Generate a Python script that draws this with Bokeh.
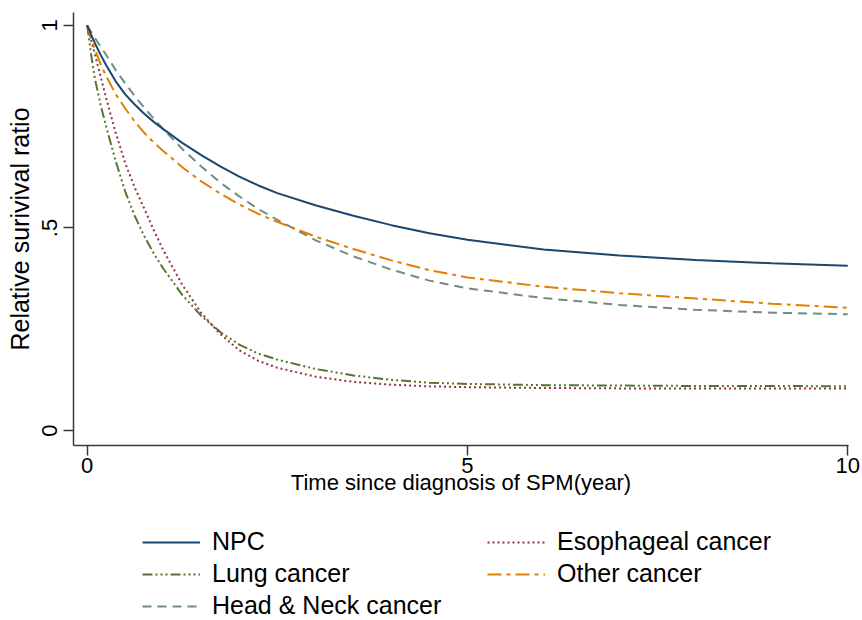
from bokeh.plotting import figure
from bokeh.models import Range1d, FixedTicker, Legend, LegendItem
from bokeh.layouts import column
from bokeh.embed import file_html
from bokeh.resources import INLINE

# ---- data ----
years = [0, 0.05, 0.1, 0.175, 0.25, 0.375, 0.5, 0.625, 0.75, 0.875, 1, 1.25, 1.5, 1.75, 2, 2.25,
         2.5, 3, 3.5, 4, 4.5, 5, 6, 7, 8, 9, 10]
npc = [1.0, 0.978, 0.957, 0.928, 0.902, 0.862, 0.83, 0.805, 0.782, 0.762, 0.744, 0.71, 0.68, 0.652,
       0.627, 0.605, 0.586, 0.556, 0.53, 0.507, 0.487, 0.471, 0.447, 0.432, 0.421, 0.413, 0.407]
esophageal = [1.0, 0.965, 0.93, 0.875, 0.82, 0.735, 0.66, 0.6, 0.548, 0.495, 0.445, 0.36, 0.29, 0.238,
              0.198, 0.172, 0.155, 0.133, 0.12, 0.113, 0.109, 0.107, 0.105, 0.104, 0.104, 0.104, 0.104]
lung = [1.0, 0.93, 0.87, 0.805, 0.75, 0.665, 0.59, 0.53, 0.48, 0.437, 0.40, 0.335, 0.283, 0.243,
        0.212, 0.19, 0.175, 0.152, 0.136, 0.125, 0.118, 0.115, 0.112, 0.111, 0.110, 0.110, 0.109]
other = [1.0, 0.97, 0.942, 0.905, 0.875, 0.83, 0.795, 0.763, 0.735, 0.711, 0.69, 0.65, 0.615, 0.585,
         0.558, 0.535, 0.515, 0.479, 0.448, 0.42, 0.396, 0.378, 0.355, 0.339, 0.326, 0.313, 0.303]
head_neck = [1.0, 0.985, 0.97, 0.948, 0.927, 0.89, 0.857, 0.826, 0.797, 0.77, 0.744, 0.695, 0.652, 0.612,
             0.578, 0.547, 0.52, 0.47, 0.43, 0.397, 0.37, 0.351, 0.327, 0.31, 0.298, 0.291, 0.287]

series_names = ["NPC", "Lung cancer", "Head & Neck cancer", "Esophageal cancer", "Other cancer"]
x_ticks = [0, 5, 10]
y_ticks = [0, 0.5, 1]
y_tick_labels = {0: "0", 0.5: ".5", 1: "1"}

FONT = "Liberation Sans"

styles = {
    "NPC": dict(color="#1a476f", line_dash="solid"),
    "Esophageal cancer": dict(color="#90353b", line_dash="2 3"),
    "Lung cancer": dict(color="#55752f", line_dash="10 3 2 3 2 3 2 3"),
    "Other cancer": dict(color="#e37e00", line_dash="14 5 4 5"),
    "Head & Neck cancer": dict(color="#6e8e84", line_dash="9 6"),
}
data = {"NPC": npc, "Esophageal cancer": esophageal, "Lung cancer": lung,
        "Other cancer": other, "Head & Neck cancer": head_neck}

# ---- main chart ----
MAIN_H = 515
p = figure(width=862, height=MAIN_H, output_backend="svg", toolbar_location=None,
           x_range=Range1d(-0.18, 10.01), y_range=Range1d(-0.037, 1.032),
           min_border_left=73, min_border_right=14, min_border_top=12,
           min_border_bottom=MAIN_H - 445)
p.outline_line_color = None
p.grid.visible = False
p.background_fill_color = "white"
p.border_fill_color = "white"

for name in ["Lung cancer", "Esophageal cancer", "Head & Neck cancer", "Other cancer", "NPC"]:
    st = styles[name]
    p.line(years, data[name], line_color=st["color"], line_width=2, line_dash=st["line_dash"])

for ax in (p.xaxis[0], p.yaxis[0]):
    ax.axis_line_color = "#3a3a3a"
    ax.axis_line_width = 1.5
    ax.major_tick_line_color = "#3a3a3a"
    ax.major_tick_line_width = 1.5
    ax.major_tick_out = 10
    ax.major_tick_in = 0
    ax.minor_tick_line_color = None
    ax.major_label_text_font = FONT
    ax.major_label_text_font_size = "22px"
    ax.major_label_text_color = "black"
    ax.axis_label_text_font = FONT
    ax.axis_label_text_font_style = "normal"
    ax.axis_label_text_color = "black"

p.xaxis[0].ticker = FixedTicker(ticks=x_ticks)
p.xaxis[0].axis_label = "Time since diagnosis of SPM(year)"
p.xaxis[0].axis_label_text_font_size = "22px"
p.xaxis[0].major_label_standoff = 2
p.xaxis[0].axis_label_standoff = -6

p.yaxis[0].ticker = FixedTicker(ticks=y_ticks)
p.yaxis[0].major_label_overrides = y_tick_labels
p.yaxis[0].major_label_orientation = "vertical"
p.yaxis[0].axis_label = "Relative surivival ratio"
p.yaxis[0].axis_label_text_font_size = "25px"
p.yaxis[0].major_label_standoff = 6
p.yaxis[0].axis_label_standoff = 6

# ---- legend panel (separate figure below the chart; its frame aligns with the chart's) ----
LEG_H = 620 - MAIN_H
lg = figure(width=862, height=LEG_H, output_backend="svg", toolbar_location=None,
            x_range=Range1d(0, 1), y_range=Range1d(0, 1),
            x_axis_location=None, y_axis_location=None,
            min_border_left=0, min_border_right=0, min_border_top=0, min_border_bottom=0)
lg.grid.visible = False
lg.outline_line_color = None
lg.border_fill_color = "white"
lg.background_fill_color = "white"

leg_renderers = {}
for name in series_names:
    st = styles[name]
    # sample lines kept outside the visible range: only their legend glyphs show
    leg_renderers[name] = lg.line([2, 3], [2, 3], line_color=st["color"], line_width=2,
                                  line_dash=st["line_dash"])

legend = Legend(items=[LegendItem(label=n, renderers=[leg_renderers[n]]) for n in series_names],
                location=(69, 0), orientation="vertical", nrows=3,
                glyph_width=58, glyph_height=20, label_standoff=12, label_width=272,
                spacing=3, padding=0, margin=0,
                label_text_font=FONT, label_text_font_size="25px", label_text_color="black",
                border_line_color=None, background_fill_alpha=0)
lg.add_layout(legend, "center")

layout = column(p, lg, spacing=0)
open("out.html", "w").write(file_html(layout, INLINE))
